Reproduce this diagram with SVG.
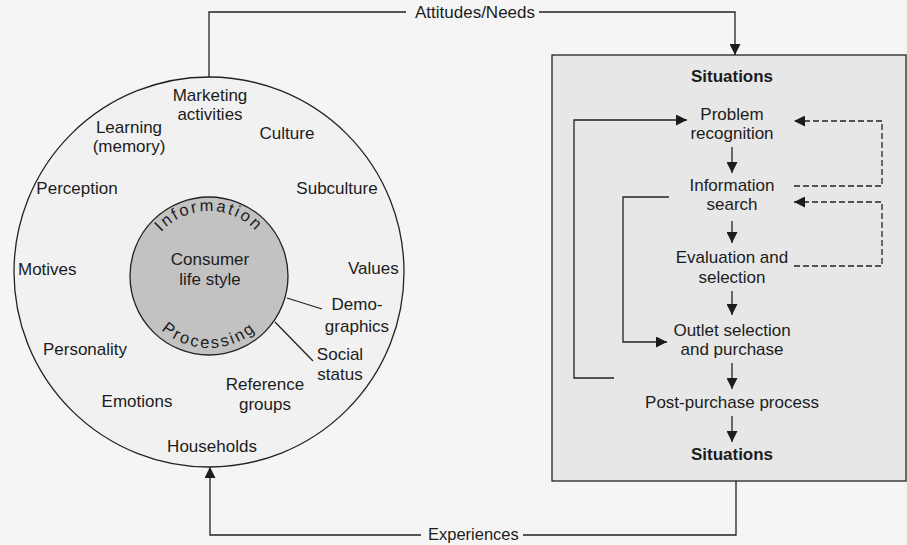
<svg xmlns="http://www.w3.org/2000/svg" width="907" height="545" viewBox="0 0 907 545">
<style>
  text { font-family: "Liberation Sans", Arial, sans-serif; font-size: 17px; fill: #1c1c1c; }
  .c { text-anchor: middle; }
  .b { font-weight: bold; }
  .ln { fill: none; stroke: #222; stroke-width: 1.3; }
  .arr { fill: none; stroke: #222; stroke-width: 1.3; marker-end: url(#ah); }
  .dasharr { fill: none; stroke: #222; stroke-width: 1.3; stroke-dasharray: 6 3; marker-end: url(#ah); }
  .arc { letter-spacing: 2.3px; font-size: 16.5px; }
  .exp { font-size: 16.5px; }
</style>
<defs>
  <marker id="ah" markerUnits="userSpaceOnUse" markerWidth="11" markerHeight="11" refX="11" refY="5.5" orient="auto">
    <path d="M0,0 L11,5.5 L0,11 z" fill="#1c1c1c"/>
  </marker>
  <path id="topArc" d="M144,276 A65,65 0 0 1 274,276"/>
  <path id="botArc" d="M137,276 A72,72 0 0 0 281,276"/>
</defs>

<rect x="0" y="0" width="907" height="545" fill="#f5f5f5"/>

<g id="outer-circle">
  <circle cx="209" cy="272" r="195" fill="#f1f1f1" stroke="#222" stroke-width="1.3"/>
  <text class="c" x="210" y="101">Marketing</text>
  <text class="c" x="210" y="120">activities</text>
  <text class="c" x="129" y="133">Learning</text>
  <text class="c" x="129" y="152">(memory)</text>
  <text class="c" x="287" y="139">Culture</text>
  <text class="c" x="77" y="194">Perception</text>
  <text class="c" x="337" y="194">Subculture</text>
  <text x="18" y="275">Motives</text>
  <text x="348" y="274">Values</text>
  <text class="c" x="85" y="355">Personality</text>
  <text class="c" x="357" y="310">Demo-</text>
  <text class="c" x="357" y="332">graphics</text>
  <text class="c" x="340" y="360">Social</text>
  <text class="c" x="340" y="380">status</text>
  <text class="c" x="265" y="390">Reference</text>
  <text class="c" x="265" y="410">groups</text>
  <text class="c" x="137" y="407">Emotions</text>
  <text class="c" x="212" y="452">Households</text>
  <line class="ln" x1="287" y1="298" x2="322" y2="309"/>
  <line class="ln" x1="275" y1="322" x2="313" y2="361"/>
</g>

<g id="inner-circle">
  <circle cx="209" cy="276" r="79" fill="#c2c2c2" stroke="#222" stroke-width="1.3"/>
  <text class="arc"><textPath href="#topArc" startOffset="50%" text-anchor="middle">Information</textPath></text>
  <text class="arc"><textPath href="#botArc" startOffset="50%" text-anchor="middle">Processing</textPath></text>
  <text class="c" x="210" y="265">Consumer</text>
  <text class="c" x="210" y="285">life style</text>
</g>

<g id="decision-box">
  <rect x="552" y="55" width="354" height="426" fill="#e7e7e7" stroke="#222" stroke-width="1.3"/>
  <text class="c b" x="732" y="82">Situations</text>
  <text class="c" x="732" y="120">Problem</text>
  <text class="c" x="732" y="139">recognition</text>
  <text class="c" x="732" y="191">Information</text>
  <text class="c" x="732" y="210">search</text>
  <text class="c" x="732" y="263">Evaluation and</text>
  <text class="c" x="732" y="283">selection</text>
  <text class="c" x="732" y="336">Outlet selection</text>
  <text class="c" x="732" y="355">and purchase</text>
  <text class="c" x="732" y="408">Post-purchase process</text>
  <text class="c b" x="732" y="460">Situations</text>
</g>

<g id="connectors">
  <line class="arr" x1="732" y1="147" x2="732" y2="173"/>
  <line class="arr" x1="732" y1="221" x2="732" y2="243"/>
  <line class="arr" x1="732" y1="291" x2="732" y2="315"/>
  <line class="arr" x1="732" y1="363" x2="732" y2="389"/>
  <line class="arr" x1="732" y1="416" x2="732" y2="442"/>
  <polyline class="arr" points="614,378 574,378 574,120 687,120"/>
  <polyline class="arr" points="669,197 623,197 623,342 667,342"/>
  <polyline class="dasharr" points="794,186 882,186 882,121 794,121"/>
  <polyline class="dasharr" points="794,266 882,266 882,202 794,202"/>
  <polyline class="ln" points="209,77 209,12 406,12"/>
  <text x="415" y="18">Attitudes/Needs</text>
  <polyline class="arr" points="539,12 735,12 735,55"/>
  <polyline class="ln" points="736,481 736,535 523,535"/>
  <text class="exp" x="428" y="540">Experiences</text>
  <polyline class="arr" points="421,535 210,535 210,467"/>
</g>
</svg>
